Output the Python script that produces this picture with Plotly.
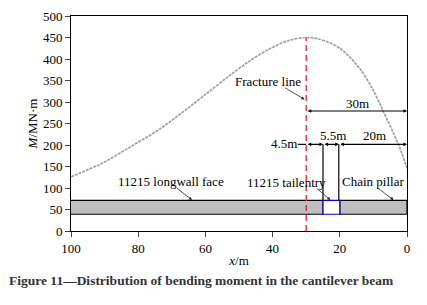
import plotly.graph_objects as go

curve_x = [100, 90.4, 82.5, 73.6, 65, 59.4, 53.4, 47.5, 41.5, 35.6, 30, 26, 20, 14.1, 10.1, 7.1, 2.7, 0]
curve_m = [126, 159, 195, 237, 287, 321, 358, 392, 421, 442, 450, 446, 425, 378, 328, 279, 204, 146]
x_ticks = [100, 80, 60, 40, 20, 0]
y_ticks = list(range(0, 501, 50))
face_x = [100.2, 25]
pillar_x = [20, 0]
tail_x = [25, 20]
seam_m = [39, 71]
fracture_x = 30
dim_30_m = 279
dim_low_m = 201.5

SERIF = "Liberation Serif"
fig = go.Figure()
fig.add_trace(go.Scatter(x=curve_x, y=curve_m, mode="lines", cliponaxis=False,
                         line=dict(color="#a0a0a0", width=1.7, shape="spline", smoothing=0.9, dash="3px,1px"),
                         hoverinfo="skip", showlegend=False))

def rect(x, fill, color):
    fig.add_shape(type="rect", x0=x[0], x1=x[1], y0=seam_m[0], y1=seam_m[1],
                  fillcolor=fill, line=dict(color=color, width=1.2))

rect(face_x, "#bebebe", "black")
rect(pillar_x, "#bebebe", "black")
rect(tail_x, "white", "#0000e0")

def vline(x, y0, y1, color="black", dash="solid", width=1.2):
    fig.add_shape(type="line", x0=x, x1=x, y0=y0, y1=y1, line=dict(color=color, dash=dash, width=width))

vline(25, 71, dim_low_m)
vline(20.3, 71, dim_low_m)
vline(fracture_x, 0, 450, "#e8202a", "6px,4px", 1.3)

def dim(x0, x1, m):
    fig.add_annotation(x=x1, y=m, ax=x0, ay=m, xref="x", yref="y", axref="x", ayref="y", text="",
                       arrowside="end+start", arrowhead=2, arrowsize=0.65, arrowwidth=1.1, arrowcolor="black")

dim(30, 0, dim_30_m)
dim(30, 25, dim_low_m)
dim(25, 20.3, dim_low_m)
dim(20.3, 0, dim_low_m)
fig.add_shape(type="line", x0=fracture_x, x1=fracture_x + 2.5, y0=dim_low_m, y1=dim_low_m, line=dict(color="black", width=1.2))

def label(x, m, s):
    fig.add_annotation(x=x, y=m, text=s, showarrow=False, font=dict(family=SERIF, size=13, color="black"))

label(41.4, 347, "Fracture line")
label(14.7, 297, "30m")
label(36.6, 204, "4.5m")
label(22, 223, "5.5m")
label(9.6, 223, "20m")
label(70.3, 114, "11215 longwall face")
label(36, 112, "11215 tailentry")
label(10, 116, "Chain pillar")

def pointer(x0, m0, x1, m1):
    fig.add_annotation(x=x1, y=m1, ax=x0, ay=m0, xref="x", yref="y", axref="x", ayref="y", text="",
                       arrowhead=2, arrowsize=0.8, arrowwidth=0.8, arrowcolor="#222")

pointer(36.7, 335, 30.5, 306)
pointer(69, 103, 64, 72)
pointer(27.3, 102, 22.8, 72)
pointer(9, 102, 4, 72)

fig.add_annotation(xref="paper", yref="paper", x=(7 - 71.3) / 336, y=-(280 - 231) / 215, xanchor="left", yanchor="middle",
                   showarrow=False, text="<b>Figure 11—Distribution of bending moment in the cantilever beam</b>",
                   font=dict(family=SERIF, size=13.5, color="#333"))

fig.update_layout(width=427, height=305, autosize=False, paper_bgcolor="white", plot_bgcolor="white",
                  margin=dict(l=71.3, r=19.7, t=16, b=74), showlegend=False,
                  font=dict(family=SERIF, size=13, color="black"))
fig.update_xaxes(range=[100, 0], tickvals=x_ticks, ticks="outside", ticklen=5, tickwidth=1, showgrid=False, zeroline=False,
                 showline=True, linecolor="black", linewidth=1, mirror=True, automargin=False,
                 title=dict(text="<i>x</i>/m", font=dict(family=SERIF, size=13), standoff=1))
fig.update_yaxes(range=[0, 500], tickvals=y_ticks, ticks="outside", ticklen=5, tickwidth=1, showgrid=False, zeroline=False,
                 showline=True, linecolor="black", linewidth=1, mirror=True, automargin=False,
                 title=dict(text="<i>M</i>/MN·m", font=dict(family=SERIF, size=13), standoff=2))
fig.write_html("out.html", config={"displayModeBar": False}, post_script="document.body.style.margin='0';")
